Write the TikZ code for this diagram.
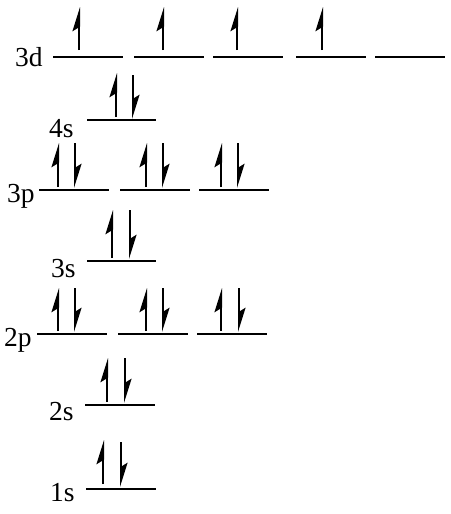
\documentclass[tikz,border=0pt]{standalone}
\usepackage{fontspec}
\setmainfont{Liberation Serif}
\usetikzlibrary{arrows.meta}

\tikzset{
  level/.style={line width=2.3pt},
  spin/.style={line width=2pt, -{Stealth[harpoon, length=21pt, width=13pt, inset=4pt]}},
  orb/.style={font=\fontsize{27.5}{32}\selectfont, inner sep=0pt, anchor=base west}
}

\begin{document}
\begin{tikzpicture}[x=1pt, y=-1pt]
	\useasboundingbox (0,0) rectangle (450,514);
	
	% 3d: four single electrons, one empty orbital
	\node[orb] (l3d) at (15,66) {3d};
	\foreach \a in {53,134,213,296,375}
		\draw[level] (\a,57) -- ++(70,0);
	\foreach \u in {79,163,237,322}
		\draw[spin] (\u,50) -- (\u,7);
	
	% 4s
	\node[orb] (l4s) at (49,137) {4s};
	\draw[level] (87,120) -- ++(69,0);
	\draw[spin] (116,117) -- (116,73);
	\draw[spin] (133,75) -- (133,119);
	
	% 3p
	\node[orb] (l3p) at (7,202) {3p};
	\foreach \a/\u/\d in {39/58/75, 120/146/163, 199/221/238} {
		\draw[level] (\a,190) -- ++(70,0);
		\draw[spin] (\u,187) -- (\u,143);
		\draw[spin] (\d,143) -- (\d,188);
	}
	
	% 3s
	\node[orb] (l3s) at (51,277) {3s};
	\draw[level] (87,261) -- ++(69,0);
	\draw[spin] (112,258) -- (112,210);
	\draw[spin] (130,210) -- (130,259);
	
	% 2p
	\node[orb] (l2p) at (4,346) {2p};
	\foreach \a/\u/\d in {37/58/75, 118/146/163, 197/221/239} {
		\draw[level] (\a,334) -- ++(70,0);
		\draw[spin] (\u,331) -- (\u,288);
		\draw[spin] (\d,288) -- (\d,332);
	}
	
	% 2s
	\node[orb] (l2s) at (49,420) {2s};
	\draw[level] (85,405) -- ++(70,0);
	\draw[spin] (107,402) -- (107,358);
	\draw[spin] (125,358) -- (125,403);
	
	% 1s
	\node[orb] (l1s) at (50,501) {1s};
	\draw[level] (86,489) -- ++(70,0);
	\draw[spin] (103,484) -- (103,440);
	\draw[spin] (121,442) -- (121,487);
	
\end{tikzpicture}
\end{document}
